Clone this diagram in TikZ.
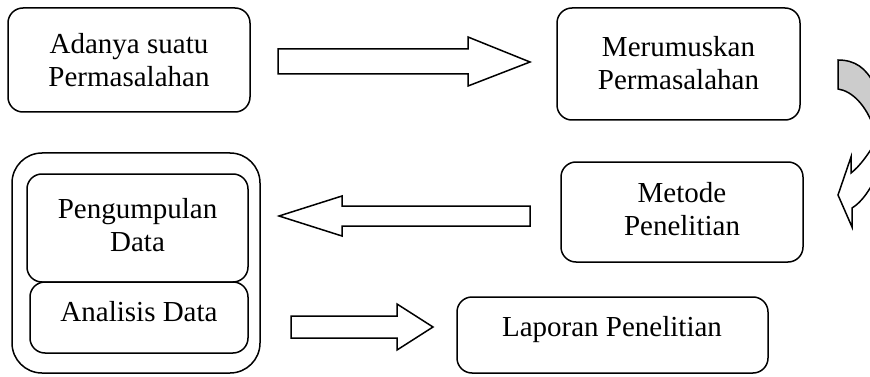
\documentclass[tikz,border=0pt]{standalone}
\usepackage{fontspec}
\setmainfont{Liberation Serif}
\begin{document}
\begin{tikzpicture}[x=1pt,y=-1pt, line width=1.5pt, line join=miter,
  box/.style={draw, rounded corners=15pt, inner sep=0pt},
  lbl/.style={align=center, inner sep=0pt, font=\fontsize{29}{33}\selectfont},
  blockarrow/.style={draw, fill=white, line join=miter}]
\useasboundingbox (0,0) rectangle (870,377);
\clip (0,0) rectangle (870,377);
% boxes
\node[box, minimum width=242pt, minimum height=104pt] (b1) at (129,60) {};
\node[box, minimum width=243pt, minimum height=112pt] (b2) at (678.5,64) {};
\node[box, minimum width=242pt, minimum height=100pt] (b3) at (682,212) {};
\node[box, minimum width=311pt, minimum height=76pt] (b4) at (612.5,335) {};
\node[box, rounded corners=30pt, minimum width=248pt, minimum height=220pt] (outer) at (136,263) {};
\node[box, minimum width=221pt, minimum height=108pt] (in1) at (137.5,228) {};
\node[box, minimum width=218pt, minimum height=71pt] (in2) at (139,317.5) {};
% labels
\node[lbl] (t1) at (b1.center) {Adanya suatu\\Permasalahan};
\node[lbl] (t2) at (678.5,63) {Merumuskan\\Permasalahan};
\node[lbl] (t3) at (682,209) {Metode\\Penelitian};
\node[lbl] (t4) at (612,330) {Laporan Penelitian};
\node[lbl] (t5) at (137.5,225) {Pengumpulan\\Data};
\node[lbl] (t6) at (139,312) {Analisis Data};
% block arrows
\draw[blockarrow] (278,49) -- (468,49) -- (468,37) -- (530,62) -- (468,86) -- (468,74) -- (278,74) -- cycle;
\draw[blockarrow] (530,206) -- (342,206) -- (342,196) -- (279,216) -- (342,236) -- (342,226) -- (530,226) -- cycle;
\draw[blockarrow] (291,316) -- (397,316) -- (397,304) -- (433,327) -- (397,350) -- (397,338) -- (291,338) -- cycle;
% curved arrow
\filldraw[fill=gray!40] (838,60) -- (838,89) .. controls (852,91) and (866,105) .. (874,128) -- (874,84) .. controls (866,68) and (855,60) .. (838,60) -- cycle;
\filldraw[fill=white] (880,135) .. controls (868,155) and (860,166) .. (851,173) -- (851,157) -- (838,195) -- (852,227) -- (852,208) .. controls (862,202) and (870,190) .. (880,170) -- cycle;
\end{tikzpicture}
\end{document}
